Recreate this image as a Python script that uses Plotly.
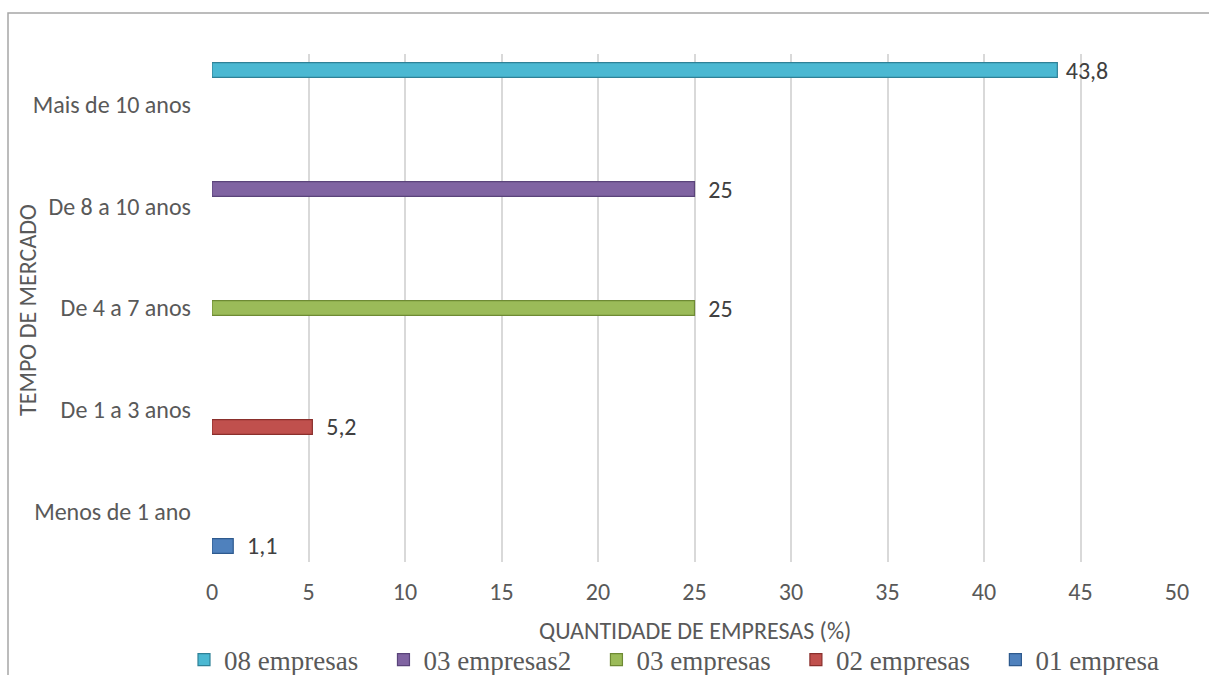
import plotly.graph_objects as go

# Categories, bottom to top on the vertical axis
categories = ["Menos de 1 ano", "De 1 a 3 anos", "De 4 a 7 anos",
              "De 8 a 10 anos", "Mais de 10 anos"]

# Percentage of companies per series (one value per series)
emp01 = [1.1, None, None, None, None]
emp02 = [None, 5.2, None, None, None]
emp03 = [None, None, 25, None, None]
emp03b = [None, None, None, 25, None]
emp08 = [None, None, None, None, 43.8]

series_names = ["01 empresa", "02 empresas", "03 empresas", "03 empresas2", "08 empresas"]
series_values = [emp01, emp02, emp03, emp03b, emp08]
fill_colors = ["#4F81BD", "#C0504D", "#9BBB59", "#8064A2", "#4BB8D2"]
edge_colors = ["#2E5A8E", "#8A2F2C", "#6E8A34", "#5A447A", "#2F8197"]
label_pad = ["\u00a0\u00a0", "\u00a0\u00a0", "\u00a0\u00a0", "\u00a0\u00a0", "\u00a0"]

x_ticks = list(range(0, 55, 5))

W, H = 1209, 675
ML, MR, MT, MB = 212, 32, 54, 113
PW, PH = W - ML - MR, H - MT - MB

sans = "Carlito, Lato, sans-serif"
grey = "#595959"
fs = 24

fig = go.Figure()
for name, vals, fc, ec, pad in zip(series_names, series_values, fill_colors, edge_colors, label_pad):
    fig.add_trace(go.Bar(
        name=name + "\u00a0\u00a0\u00a0",
        y=categories,
        x=vals,
        orientation="h",
        marker=dict(color=fc, line=dict(color=ec, width=1.2)),
        texttemplate=pad + "%{x}",
        textposition="outside",
        constraintext="none",
        cliponaxis=False,
        textfont=dict(family=sans, size=fs, color="#404040"),
    ))

def px_x(p):
    return (p - ML) / PW

def px_y(p):
    return (H - MB - p) / PH

fig.update_layout(
    width=W, height=H,
    margin=dict(l=ML, r=MR, t=MT, b=MB, autoexpand=False),
    paper_bgcolor="white", plot_bgcolor="white",
    barmode="group", bargap=0.144, bargroupgap=0.16,
    separators=",.",
    showlegend=True,
    legend=dict(
        orientation="h", traceorder="reversed",
        x=px_x(184), xanchor="left",
        y=px_y(660), yanchor="middle",
        font=dict(family="Liberation Serif, Times New Roman, serif", size=27, color=grey),
        bgcolor="rgba(0,0,0,0)",
    ),
    xaxis=dict(
        range=[0, 50], tickvals=x_ticks, ticktext=[str(t) for t in x_ticks],
        showgrid=True, gridcolor="#D9D9D9", gridwidth=1.5,
        zeroline=False, showline=False, ticks="",
        ticklabelstandoff=13,
        tickfont=dict(family=sans, size=fs, color=grey),
        fixedrange=True,
    ),
    yaxis=dict(
        type="category", categoryorder="array", categoryarray=categories,
        showgrid=False, zeroline=False, showline=False, ticks="",
        ticklabelstandoff=20,
        tickfont=dict(family=sans, size=fs, color=grey),
        fixedrange=True,
    ),
    annotations=[
        dict(text="QUANTIDADE DE EMPRESAS (%)", xref="paper", yref="paper",
             x=0.5, y=px_y(630), xanchor="center", yanchor="middle",
             showarrow=False, font=dict(family=sans, size=fs, color=grey)),
        dict(text="TEMPO DE MERCADO", xref="paper", yref="paper",
             x=px_x(27), y=px_y(310), xanchor="center", yanchor="middle",
             textangle=-90, showarrow=False,
             font=dict(family=sans, size=fs, color=grey)),
    ],
    shapes=[
        dict(type="rect", xref="paper", yref="paper",
             x0=px_x(8), x1=px_x(1230), y0=px_y(13), y1=px_y(700),
             line=dict(color="#A6A6A6", width=1.5), fillcolor="rgba(0,0,0,0)",
             layer="below"),
    ],
)

fig.write_html("out.html")
